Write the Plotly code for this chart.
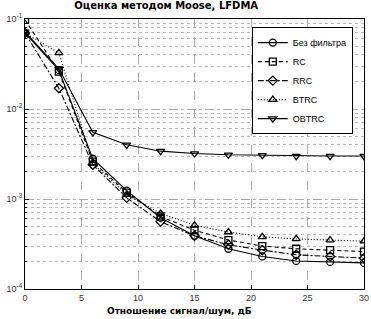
import plotly.graph_objects as go

snr = [0, 3, 6, 9, 12, 15, 18, 21, 24, 27, 30]
ber_none = [0.070, 0.027, 0.0028, 0.00124, 0.00062, 0.00039, 0.00028, 0.00023, 0.000205, 0.00020, 0.000195]
ber_rc = [0.098, 0.026, 0.0026, 0.00118, 0.00064, 0.00045, 0.00035, 0.00030, 0.00028, 0.00027, 0.00026]
ber_rrc = [0.070, 0.017, 0.0024, 0.00103, 0.00056, 0.00039, 0.00031, 0.00027, 0.00024, 0.00023, 0.00022]
ber_btrc = [0.070, 0.042, 0.0025, 0.00112, 0.00069, 0.00051, 0.00043, 0.00038, 0.00036, 0.00035, 0.00034]
ber_obtrc = [0.072, 0.028, 0.0055, 0.0040, 0.0034, 0.0032, 0.0031, 0.00306, 0.0030, 0.0030, 0.0030]

names = ["Без фильтра", "RC", "RRC", "BTRC", "OBTRC"]
series = [ber_none, ber_rc, ber_rrc, ber_btrc, ber_obtrc]
dashes = ["solid", "4px,3px", "6px,2px,2px,2px", "1px,2px", "solid"]
symbols = ["circle-open", "square-open", "diamond-open", "triangle-up-open", "triangle-down-open"]

title_text = "Оценка методом Moose, LFDMA"
xlabel_text = "Отношение сигнал/шум, дБ"

fig = go.Figure()
for n, s, d, m in zip(names, series, dashes, symbols):
    fig.add_trace(go.Scatter(
        x=snr, y=s, name=n, mode="lines+markers",
        line=dict(color="black", width=1.1, dash=d),
        marker=dict(symbol=m, size=7, color="black", line=dict(width=1.3, color="black")),
    ))

fig.update_layout(
    width=371, height=319,
    margin=dict(l=25, r=7, t=19, b=30, autoexpand=False),
    paper_bgcolor="white", plot_bgcolor="white",
    font=dict(family="Arial, Liberation Sans, sans-serif", size=9, color="black"),
    title=dict(text="<b>" + title_text + "</b>", x=0.448, xanchor="center",
               y=1 - 5.5 / 319, yanchor="middle",
               font=dict(size=10, family="DejaVu Sans")),
    legend=dict(x=0.669, y=0.97, xanchor="left", yanchor="top",
                bordercolor="black", borderwidth=1, bgcolor="white",
                font=dict(size=9), itemwidth=30, tracegroupgap=0),
    showlegend=True,
    annotations=[dict(text="<b>" + xlabel_text + "</b>", xref="paper", yref="paper",
                      x=0.457, y=-22 / 270, xanchor="center", yanchor="middle",
                      showarrow=False, font=dict(size=9, family="DejaVu Sans"))],
)
fig.update_xaxes(
    range=[0, 30], tickvals=[0, 5, 10, 15, 20, 25, 30],
    showline=True, linecolor="black", linewidth=1, mirror=True,
    ticks="inside", ticklen=4, tickcolor="black",
    showgrid=True, gridcolor="#aaaaaa", griddash="dash", gridwidth=1,
    zeroline=False, automargin=False,
    tickfont=dict(size=9, color="#333"),
)
fig.update_yaxes(
    type="log", range=[-4, -1],
    tickvals=[1e-4, 1e-3, 1e-2, 1e-1],
    ticktext=["10<sup>-4</sup>", "10<sup>-3</sup>", "10<sup>-2</sup>", "10<sup>-1</sup>"],
    showline=True, linecolor="black", linewidth=1, mirror=True,
    ticks="inside", ticklen=4, tickcolor="black",
    showgrid=True, gridcolor="#aaaaaa", griddash="dash", gridwidth=1,
    minor=dict(showgrid=True, gridcolor="#bbbbbb", griddash="dot", ticks="inside", ticklen=2,
               tickcolor="black", dtick="D1"),
    zeroline=False, automargin=False,
    tickfont=dict(size=9, color="#333"),
)

fig.write_html("out.html", config={"displayModeBar": False},
               post_script="document.body.style.margin='0';")
